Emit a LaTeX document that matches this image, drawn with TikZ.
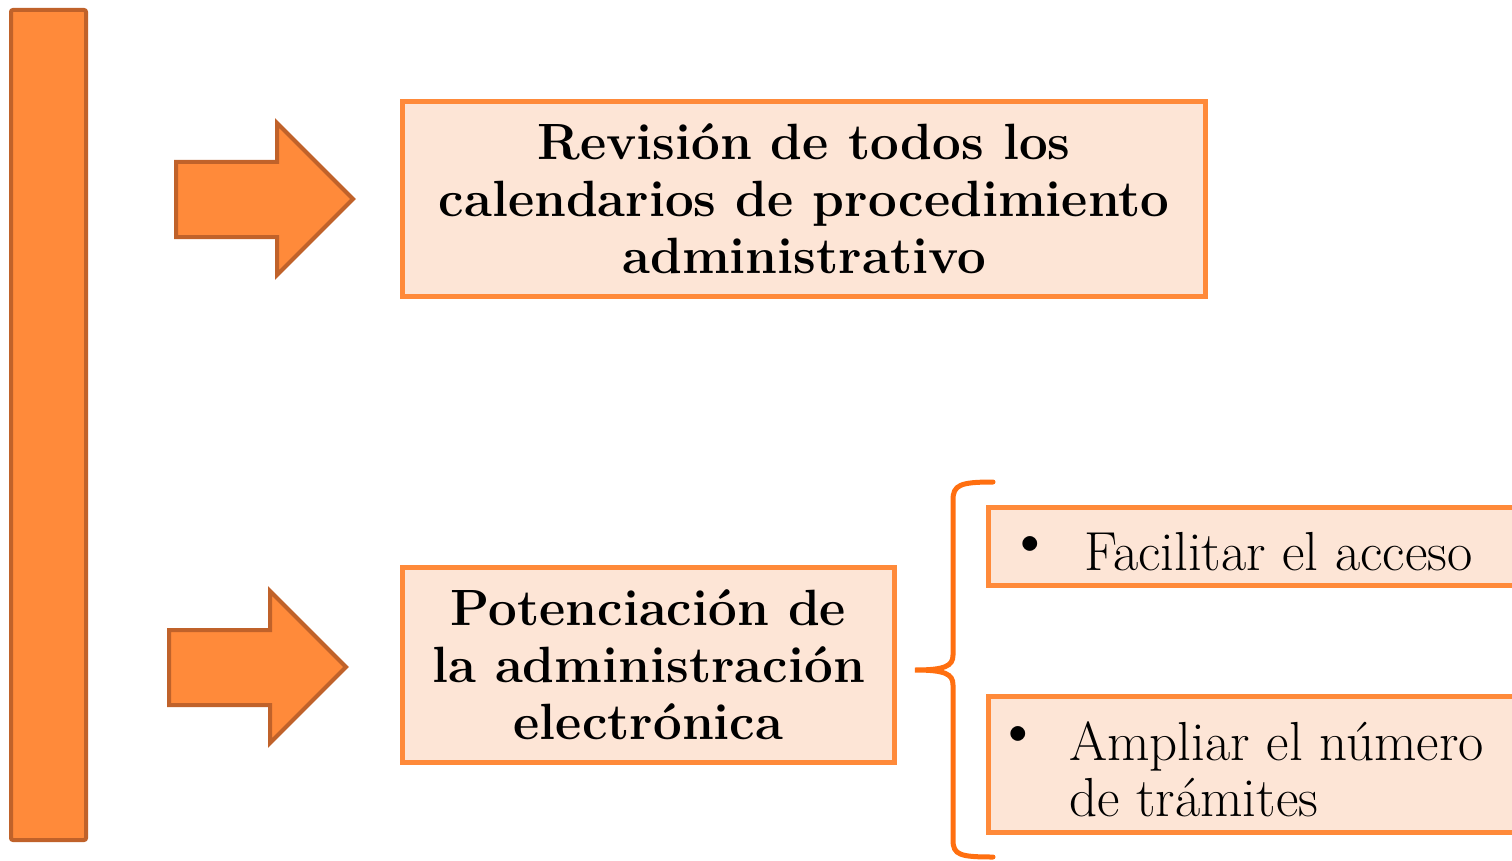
\documentclass[tikz,border=0pt]{standalone}
\usepackage{fontspec}
\definecolor{barfill}{HTML}{FF8A3A}
\definecolor{barline}{HTML}{C0622A}
\definecolor{boxfill}{HTML}{FDE5D6}
\definecolor{boxline}{HTML}{FF8A3A}
\definecolor{bracecol}{HTML}{FF6F10}
\tikzset{
  shapeorange/.style={fill=barfill,draw=barline,line width=4pt,line join=miter},
  infobox/.style={fill=boxfill,draw=boxline,line width=5pt,inner sep=0pt},
  bigtext/.style={font=\fontsize{51}{57}\selectfont\bfseries,align=center},
  listtext/.style={font=\fontsize{55}{56}\selectfont,align=left,anchor=west,inner sep=0pt},
  bulletmark/.style={font=\fontsize{66}{66}\selectfont,inner sep=0pt},
}
\begin{document}
\begin{tikzpicture}[x=1pt,y=-1pt]
\useasboundingbox (0,0) rectangle (1512,861);
% left bar
\draw[shapeorange,rounded corners=2pt] (11,10) rectangle (86,840);
% arrows
\draw[shapeorange] (176,162) -- (277,162) -- (277,123) -- (353,199) -- (277,275) -- (277,237) -- (176,237) -- cycle;
\draw[shapeorange] (169,630) -- (270,630) -- (270,591) -- (346,667) -- (270,743) -- (270,705) -- (169,705) -- cycle;
% boxes
\node[infobox,minimum width=803pt,minimum height=195pt] (b1) at (804,199) {};
\node[bigtext] (t1) at (b1.center) {Revisión de todos los\\calendarios de procedimiento\\administrativo};
\node[infobox,minimum width=492pt,minimum height=195pt] (b2) at (648.5,665) {};
\node[bigtext] (t2) at (b2.center) {Potenciación de\\la administración\\electrónica};
\node[infobox,minimum width=540pt,minimum height=78pt] (b3) at (1258,546.5) {};
\node[infobox,minimum width=540pt,minimum height=136pt] (b4) at (1258,764.5) {};
\node[bulletmark] (bul3) at (1030,549) {\textbullet};
\node[listtext] (t3) at (1084,552) {Facilitar el acceso};
\node[bulletmark] (bul4) at (1018,739) {\textbullet};
\node[listtext] (t4) at (1069,769) {Ampliar el número\\de trámites};
% brace
\coordinate (btop) at (993,482);
\coordinate (bbot) at (993,857);
\coordinate (btip) at (915,670);
\draw[bracecol,line width=5pt,line cap=round] (btop) .. controls (960,482) and (953,485) .. (953,500) -- (953,655) .. controls (953,666) and (945,670) .. (btip)
  .. controls (945,670) and (953,674) .. (953,685) -- (953,840) .. controls (953,855) and (960,857) .. (bbot);
\end{tikzpicture}
\end{document}
